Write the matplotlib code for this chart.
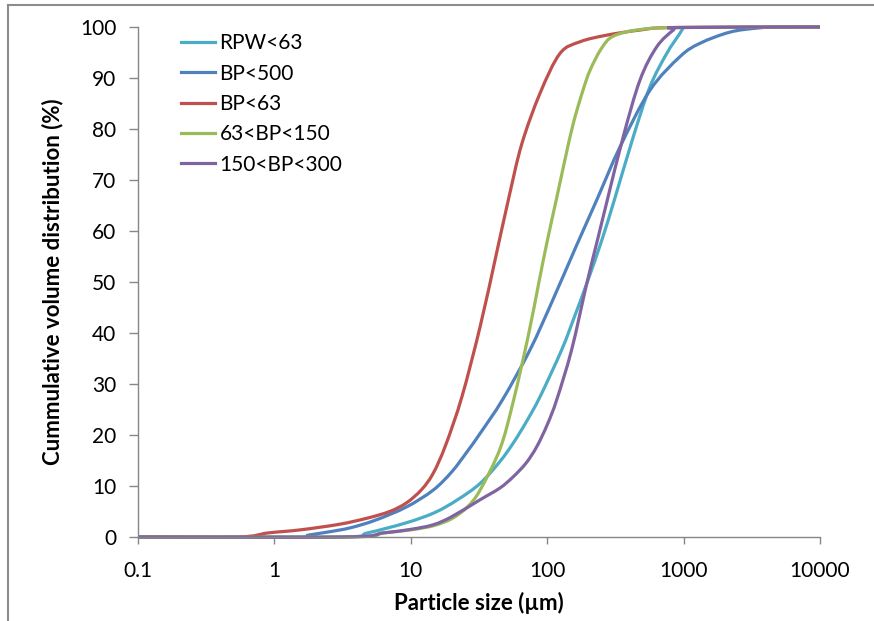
import matplotlib
matplotlib.use("Agg")
import matplotlib.pyplot as plt
import numpy as np
from matplotlib.path import Path
from matplotlib.patches import PathPatch
from matplotlib.lines import Line2D

# particle size (um) / cumulative volume (%)
rpw63_x = [0.1, 3, 4.8, 9.3, 15, 22, 32.2, 45, 56.3, 70, 88.6, 127.7, 160, 195, 250, 314, 428, 567, 752, 942, 1000]
rpw63_y = [0, 0, 0.8, 2.8, 4.8, 7.3, 10.5, 14.8, 18.4, 22.5, 27.5, 36.7, 43.5, 49.7, 58, 66.5, 78.5, 88.3, 94.8, 98.8, 100]

bp500_x = [0.1, 1.5, 1.8, 2.5, 3.6, 5.5, 9.3, 14.6, 20, 26, 32.2, 47, 74.8, 110, 160, 231, 342, 567, 942, 1318, 2190, 3500, 5000, 10000]
bp500_y = [0, 0, 0.4, 1.0, 1.8, 3.3, 5.9, 9.2, 12.8, 16.8, 20.3, 26.9, 36.7, 46.5, 56.5, 66.1, 76.5, 87.6, 94.2, 96.8, 99, 99.8, 100, 100]

bp63_x = [0.1, 0.54, 0.9, 1.55, 3, 4.8, 7, 9.3, 12, 14.6, 18, 23.7, 32.2, 42, 51.9, 65, 88.6, 124, 174, 273, 479, 841, 10000]
bp63_y = [0, 0, 0.8, 1.4, 2.5, 3.7, 5, 6.7, 9.3, 12.5, 18, 27.5, 41.2, 55, 66.1, 77, 87, 94.8, 97.1, 98.4, 99.4, 99.9, 100]

bp63_150_x = [0.1, 3.5, 6.3, 10, 14.6, 20, 26, 32.2, 45.1, 56.3, 72.7, 87, 100, 117.4, 135, 155, 180, 206, 250, 305, 479, 942, 10000]
bp63_150_y = [0, 0, 0.8, 1.4, 2.2, 3.6, 5.9, 9.2, 17.3, 26.5, 39.5, 50, 58, 66.5, 74, 81, 87, 91.5, 95.8, 98.2, 99.5, 99.9, 100]

bp150_300_x = [0.1, 3.2, 6.3, 10, 14.6, 20, 32.2, 45, 56.3, 70, 83.8, 100, 117.4, 151, 195, 235, 276, 361, 479, 635, 841, 942, 10000]
bp150_300_y = [0, 0, 0.8, 1.5, 2.4, 4, 7.3, 9.6, 11.8, 14.5, 17.7, 22, 26.9, 36.7, 49.7, 58.5, 66.1, 78.5, 89.6, 96.1, 99.4, 99.9, 100]

labels = ["RPW<63", "BP<500", "BP<63", "63<BP<150", "150<BP<300"]
colors = ["#4BACC6", "#4F81BD", "#C0504D", "#9BBB59", "#8064A2"]

x_ticks = [0.1, 1, 10, 100, 1000, 10000]
x_tick_labels = ["0.1", "1", "10", "100", "1000", "10000"]
y_ticks = list(range(0, 101, 10))

plt.rcParams['font.family'] = ['Lato', 'DejaVu Sans']
AXIS_GREY = '#868686'
LW = 2.3


def smooth_path(xs, ys):
    # Excel-style "smoothed line": cubic bezier through the points, built in log-x space
    p = np.column_stack([np.log10(xs), ys]).astype(float)
    n = len(p)
    verts = [p[0]]
    codes = [Path.MOVETO]
    for i in range(n - 1):
        p0 = p[i - 1] if i > 0 else p[i]
        p3 = p[i + 2] if i + 2 < n else p[i + 1]
        c1 = p[i] + (p[i + 1] - p0) / 6
        c2 = p[i + 1] - (p3 - p[i]) / 6
        verts += [c1, c2, p[i + 1]]
        codes += [Path.CURVE4] * 3
    verts = np.array(verts)
    verts[:, 0] = 10 ** verts[:, 0]
    return Path(verts, codes)


fig = plt.figure(figsize=(8.74, 6.21), dpi=100)
ax = fig.add_axes([138 / 874, 84 / 621, 682 / 874, 510 / 621])
ax.set_xscale('log')
ax.set_xlim(0.1, 10000)
ax.set_ylim(0, 100)

series = [(rpw63_x, rpw63_y), (bp500_x, bp500_y), (bp63_x, bp63_y),
          (bp63_150_x, bp63_150_y), (bp150_300_x, bp150_300_y)]
handles = []
for (xs, ys), lab, col in zip(series, labels, colors):
    ax.add_patch(PathPatch(smooth_path(xs, ys), facecolor='none', edgecolor=col,
                           lw=LW, capstyle='butt', clip_on=False))
    handles.append(Line2D([], [], color=col, lw=LW, label=lab))

ax.set_xticks(x_ticks)
ax.set_xticklabels(x_tick_labels)
ax.xaxis.set_minor_locator(matplotlib.ticker.NullLocator())
ax.set_yticks(y_ticks)

for side in ['top', 'right']:
    ax.spines[side].set_visible(False)
for side in ['left', 'bottom']:
    ax.spines[side].set_color(AXIS_GREY)
    ax.spines[side].set_linewidth(1.0)

ax.tick_params(axis='y', direction='out', length=6.5, width=1, color=AXIS_GREY,
               labelsize=15, pad=9)
ax.tick_params(axis='x', direction='out', length=5, width=1, color=AXIS_GREY,
               labelsize=15, pad=12)

ax.set_xlabel("Particle size (µm)", fontsize=16, fontweight='bold', labelpad=8)
ax.set_ylabel("Cummulative volume distribution (%)", fontsize=16, fontweight='bold', labelpad=12)

ax.legend(handles=handles, loc='upper left', bbox_to_anchor=(0.063, 0.988), frameon=False,
          fontsize=15, handlelength=1.65, handletextpad=0.2, labelspacing=0.5,
          borderaxespad=0, borderpad=0)

# outer chart-area border, only top and left edges are inside the picture
fig.add_artist(Line2D([8 / 874, 8 / 874], [0, 1 - 5 / 621], transform=fig.transFigure,
                      color='#8c8c8c', lw=1.5))
fig.add_artist(Line2D([8 / 874, 1], [1 - 5 / 621, 1 - 5 / 621], transform=fig.transFigure,
                      color='#8c8c8c', lw=1.5))

fig.savefig("out.png", dpi=100)
